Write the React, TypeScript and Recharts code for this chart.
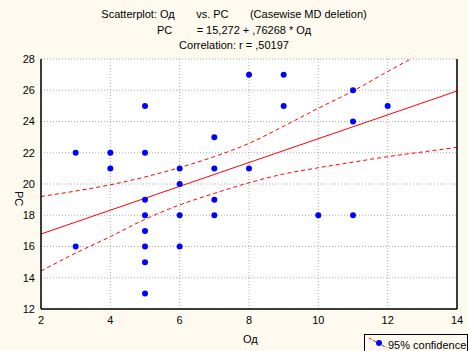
import { ComposedChart, Scatter, Line, XAxis, YAxis, CartesianGrid } from "recharts"

// observed cases (Од, PC)
const OD = [3, 3, 4, 4, 5, 5, 5, 5, 5, 5, 5, 5, 6, 6, 6, 6, 7, 7, 7, 7, 8, 8, 9, 9, 10, 11, 11, 11, 12]
const PC = [22, 16, 22, 21, 25, 22, 19, 18, 17, 16, 15, 13, 21, 20, 18, 16, 23, 21, 19, 18, 27, 21, 27, 25, 18, 26, 24, 18, 25]

// fitted line end points
const FIT_X = [2, 14]
const FIT_Y = [16.8, 25.95]

const BAND_X = [2, 3, 4, 5, 6, 7, 8, 9, 10, 11, 12, 13, 14]
const UPPER = [19.2, 19.55, 19.95, 20.45, 21.05, 21.75, 22.6, 23.7, 24.85, 25.95, 27.2, 28.4, 29.6]
const LOWER = [14.43, 15.58, 16.63, 17.74, 18.66, 19.4, 20.08, 20.64, 21.04, 21.4, 21.75, 22.05, 22.35]

const X_TICKS = [2, 4, 6, 8, 10, 12, 14]
const Y_TICKS = [12, 14, 16, 18, 20, 22, 24, 26, 28]

const BG = "#fffaef"
const FONT = "'Liberation Sans', Arial, sans-serif"

const points = OD.map((x, i) => ({ x, y: PC[i] }))
const fit = FIT_X.map((x, i) => ({ x, y: FIT_Y[i] }))
const upper = BAND_X.map((x, i) => ({ x, y: UPPER[i] }))
const lower = BAND_X.map((x, i) => ({ x, y: LOWER[i] }))

const tickStyle = { fontSize: 11, fill: "#000", fontFamily: FONT }
const border = { stroke: "#000", strokeWidth: 1.5 }

export default function App() {
  return (
    <div style={{ position: "absolute", left: 0, top: 0, width: 468, height: 351, background: BG, fontFamily: FONT, overflow: "hidden" }}>
      <div style={{ position: "absolute", left: 0, width: 468, top: 7, textAlign: "center", fontSize: 11, lineHeight: "15.5px", color: "#000", whiteSpace: "pre" }}>
        <div>{"Scatterplot: Од       vs. PC       (Casewise MD deletion)"}</div>
        <div>{"PC        = 15,272 + ,76268 * Од"}</div>
        <div>{"Correlation: r = ,50197"}</div>
      </div>

      <ComposedChart width={468} height={351} margin={{ top: 59, right: 11, bottom: 0, left: 0 }} style={{ position: "absolute", left: 0, top: 0 }}>
        <CartesianGrid fill="#fff" stroke="#aaa" strokeDasharray="1 2" />
        <XAxis
          type="number"
          dataKey="x"
          domain={[2, 14]}
          ticks={X_TICKS}
          height={42}
          tickLine={false}
          tickSize={0}
          tickMargin={7}
          axisLine={border}
          tick={tickStyle}
          allowDataOverflow
        />
        <XAxis xAxisId="top" orientation="top" type="number" dataKey="x" domain={[2, 14]} ticks={X_TICKS} height={0} tick={false} tickLine={false} axisLine={border} />
        <YAxis
          type="number"
          dataKey="y"
          domain={[12, 28]}
          ticks={Y_TICKS}
          width={41}
          tickLine={false}
          tickSize={0}
          tickMargin={6}
          axisLine={border}
          tick={tickStyle}
          allowDataOverflow
        />
        <YAxis yAxisId="r" orientation="right" mirror type="number" dataKey="y" domain={[12, 28]} ticks={Y_TICKS} width={11} tick={false} tickSize={3} tickLine={{ stroke: "#000" }} axisLine={border} allowDataOverflow />
        <Line data={upper} dataKey="y" type="monotone" stroke="#f00" strokeDasharray="4 3" dot={false} isAnimationActive={false} />
        <Line data={lower} dataKey="y" type="monotone" stroke="#f00" strokeDasharray="4 3" dot={false} isAnimationActive={false} />
        <Line data={fit} dataKey="y" xAxisId="top" yAxisId="r" type="linear" stroke="#f00" dot={false} isAnimationActive={false} />
        <Scatter data={points} dataKey="y" fill="#0000ff" shape={(p: any) => <circle cx={p.cx} cy={p.cy} r={3} fill="#0000ff" />} isAnimationActive={false} />
      </ComposedChart>

      <div style={{ position: "absolute", left: 0, top: 0, width: 468, height: 351, pointerEvents: "none" }}>
        <div style={{ position: "absolute", left: 243, top: 333, fontSize: 11 }}>Од</div>
        <div style={{ position: "absolute", left: 11, top: 191, fontSize: 11, transform: "rotate(90deg)", transformOrigin: "left top", marginLeft: 14 }}>PC</div>
        <div style={{ position: "absolute", left: 364, top: 334, width: 102, height: 22, border: "1px solid #000", background: BG, fontSize: 11 }}>
          <svg width={22} height={16} style={{ position: "absolute", left: 2, top: 1 }}>
            <line x1={2} y1={2} x2={20} y2={12} stroke="#f00" strokeDasharray="3 2" />
            <circle cx={12} cy={7} r={3} fill="#0000ff" />
          </svg>
          <span style={{ position: "absolute", left: 23, top: 4 }}>95% confidence</span>
        </div>
      </div>
    </div>
  )
}
